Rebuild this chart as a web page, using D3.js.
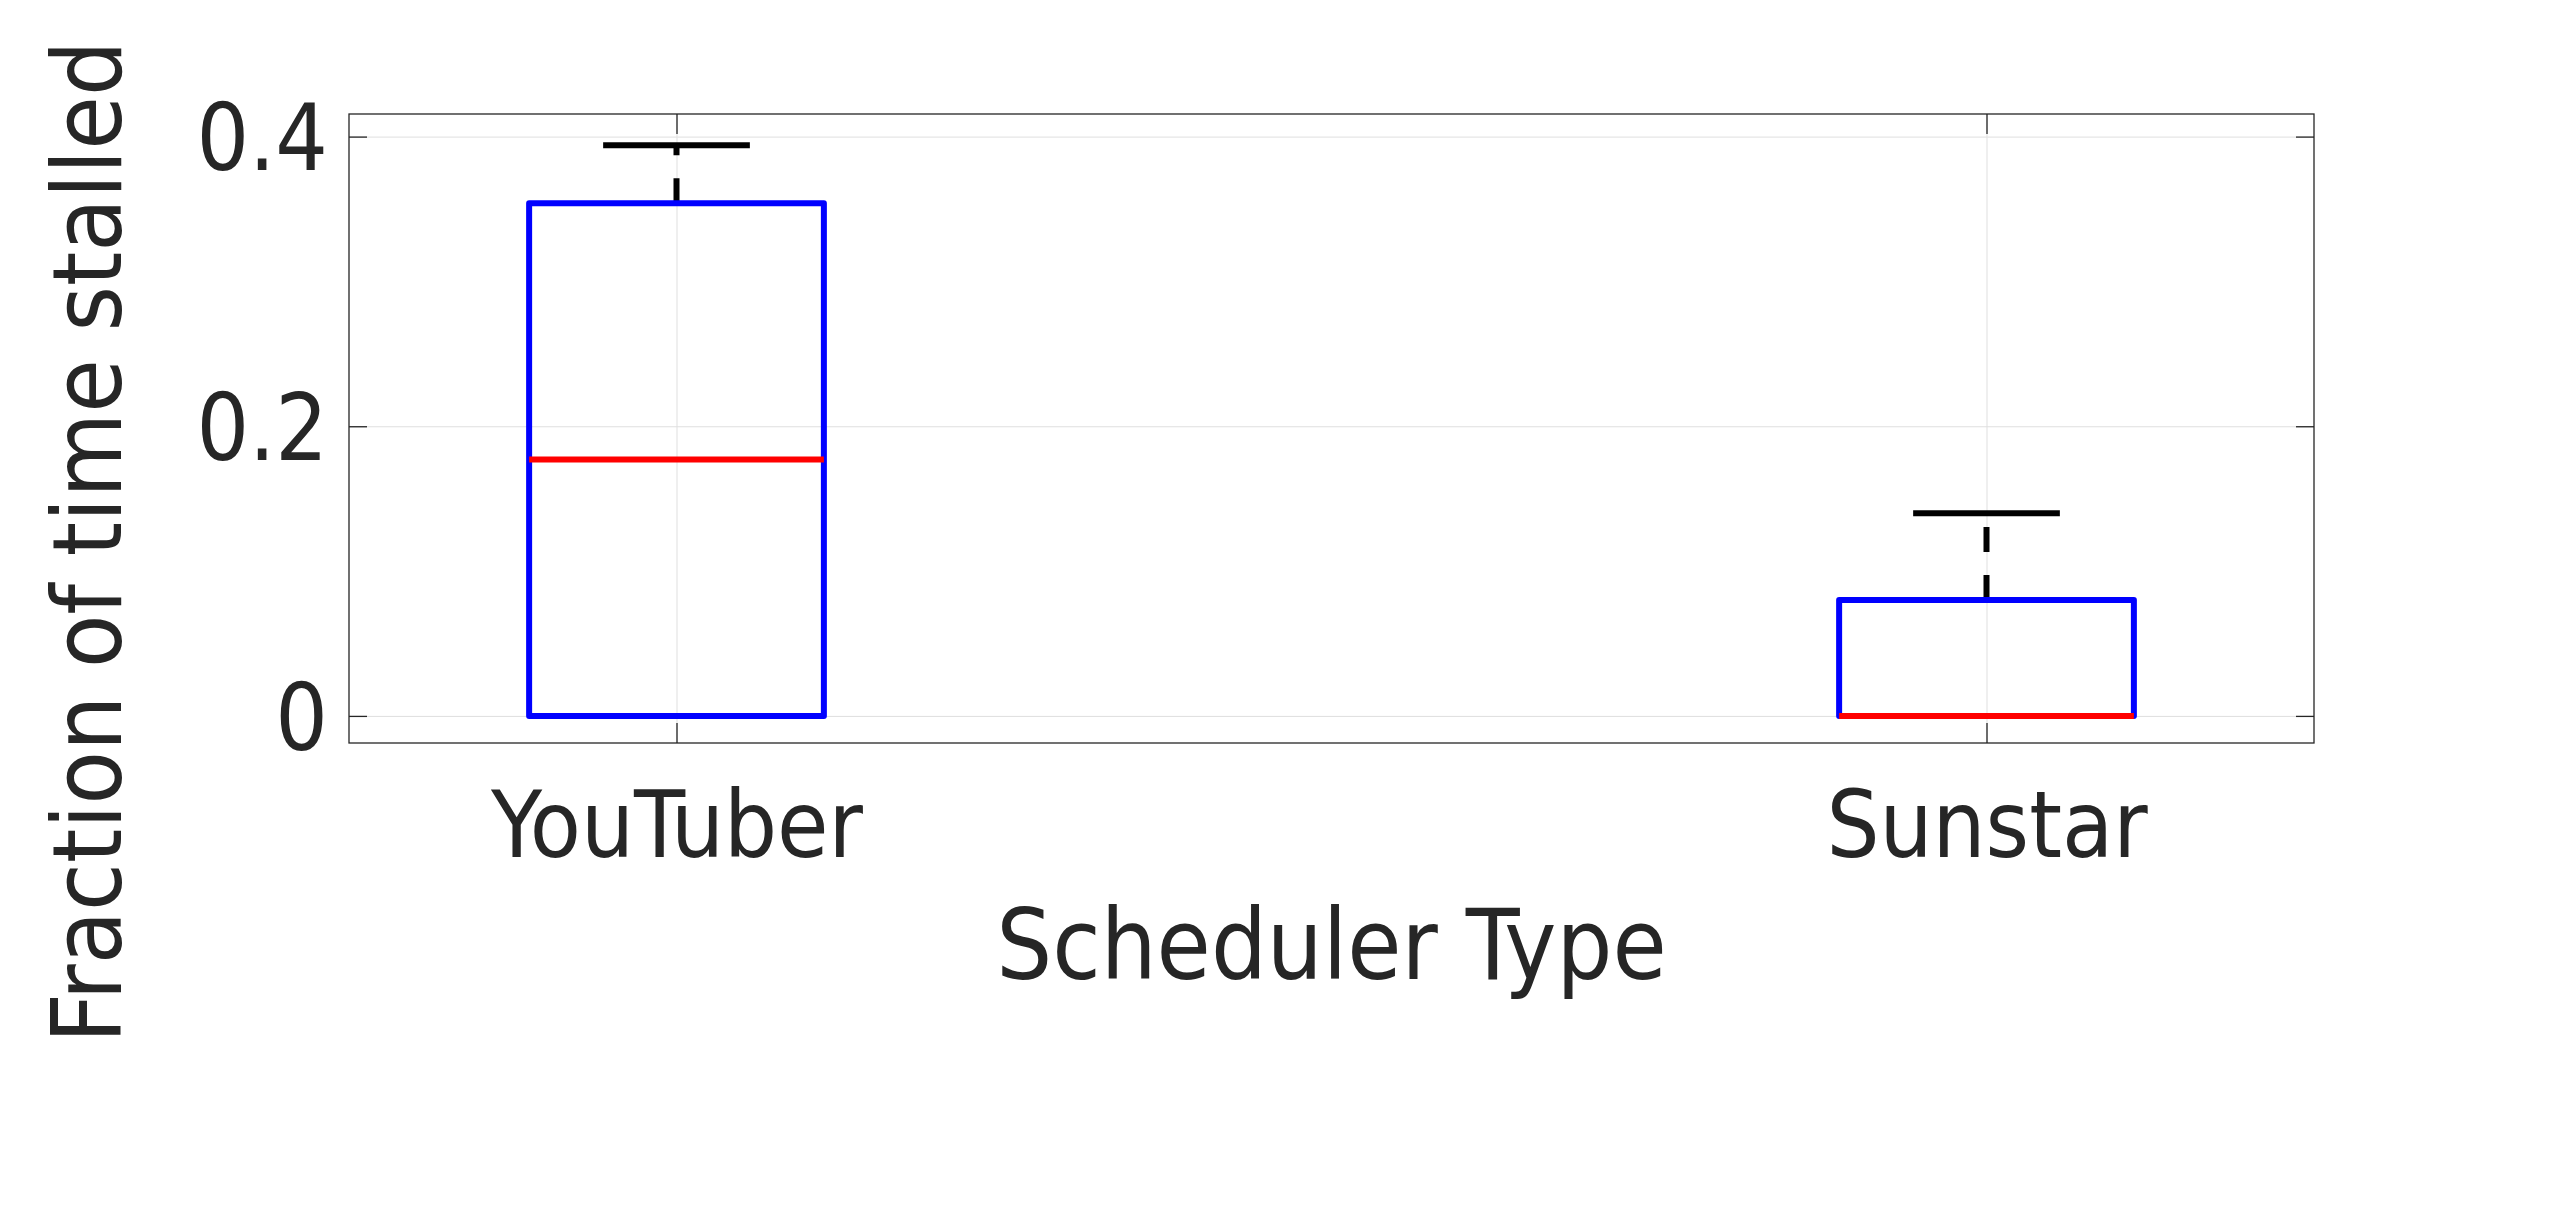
<!DOCTYPE html>
<head>
  <meta charset="utf-8">
  <title>Fraction of time stalled</title>
  <script src="https://d3js.org/d3.v7.min.js"></script>
  <style>
    body { margin: 0; background: #fff; }
    text {
      font-family: "DejaVu Sans Condensed", "DejaVu Sans", sans-serif;
      font-stretch: condensed;
      fill: #262626;
    }
    .grid line { stroke: #dfdfdf; stroke-width: 1px; }
    .grid path { display: none; }
    .ax path, .ax line { stroke: #262626; stroke-width: 1.3px; }
  </style>
</head>

<body>
    <svg id="chart" width="2560" height="1222"></svg>
    <script>
      // values
      var categories = ["YouTuber", "Sunstar"];
      var lowerWhisker = [0, 0];
      var q1 = [0, 0];
      var medians = [0.177, 0];
      var q3 = [0.354, 0.080];
      var upperWhisker = [0.394, 0.140];
      var yTicks = [0, 0.2, 0.4];

      var plotLeft = 349, plotRight = 2314, plotTop = 114, plotBottom = 743;
      var plotW = plotRight - plotLeft, plotH = plotBottom - plotTop;

      var svg = d3.select("#chart");

      var x = d3.scaleLinear().domain([0.75, 2.25]).range([plotLeft, plotRight]);
      var y = d3.scaleLinear().domain([-0.0187, 0.4156]).range([plotBottom, plotTop]);
      var pos = categories.map(function(d, i) { return i + 1; });

      // grid lines
      svg.append("g").attr("class", "grid")
        .attr("transform", "translate(" + plotLeft + ",0)")
        .call(d3.axisLeft(y).tickValues(yTicks).tickSize(-plotW).tickFormat(""));
      svg.append("g").attr("class", "grid")
        .attr("transform", "translate(0," + plotBottom + ")")
        .call(d3.axisBottom(x).tickValues(pos).tickSize(-plotH).tickFormat(""));

      // box frame
      svg.append("rect")
        .attr("x", plotLeft).attr("y", plotTop)
        .attr("width", plotW).attr("height", plotH)
        .attr("fill", "none").attr("stroke", "#262626").attr("stroke-width", 1.3);

      // axes with inward ticks
      var yAx = svg.append("g").attr("class", "ax")
        .attr("transform", "translate(" + plotLeft + ",0)")
        .call(d3.axisLeft(y).tickValues(yTicks).tickSize(-18).tickPadding(21)
          .tickFormat(function(d) { return d === 0 ? "0" : d3.format(".1f")(d); }));
      yAx.selectAll("text").attr("font-size", 92).attr("dy", "0.36em");

      svg.append("g").attr("class", "ax")
        .attr("transform", "translate(" + plotRight + ",0)")
        .call(d3.axisRight(y).tickValues(yTicks).tickSize(-18).tickFormat(""));

      var xAx = svg.append("g").attr("class", "ax")
        .attr("transform", "translate(0," + plotBottom + ")")
        .call(d3.axisBottom(x).tickValues(pos).tickSize(-20).tickPadding(48)
          .tickFormat(function(d) { return categories[d - 1]; }));
      xAx.selectAll("text").attr("font-size", 93);

      svg.append("g").attr("class", "ax")
        .attr("transform", "translate(0," + plotTop + ")")
        .call(d3.axisTop(x).tickValues(pos).tickSize(-20).tickFormat(""));

      svg.selectAll(".ax path").remove();

      // boxplot marks
      var halfBox = 0.1125, halfCap = 0.056, lw = 6;
      var g = svg.append("g");
      var idx = d3.range(categories.length);

      // whiskers (dashed), from box edge outward
      g.selectAll(".whisk-up").data(idx).enter().append("line")
        .attr("x1", function(i) { return x(pos[i]); })
        .attr("x2", function(i) { return x(pos[i]); })
        .attr("y1", function(i) { return y(q3[i]); })
        .attr("y2", function(i) { return y(upperWhisker[i]); })
        .attr("stroke", "#000").attr("stroke-width", lw)
        .attr("stroke-dasharray", "25,23");
      g.selectAll(".whisk-lo").data(idx).enter().append("line")
        .attr("x1", function(i) { return x(pos[i]); })
        .attr("x2", function(i) { return x(pos[i]); })
        .attr("y1", function(i) { return y(q1[i]); })
        .attr("y2", function(i) { return y(lowerWhisker[i]); })
        .attr("stroke", "#000").attr("stroke-width", lw)
        .attr("stroke-dasharray", "25,23");

      // caps
      [upperWhisker, lowerWhisker].forEach(function(arr) {
        g.selectAll(null).data(idx).enter().append("line")
          .attr("x1", function(i) { return x(pos[i] - halfCap); })
          .attr("x2", function(i) { return x(pos[i] + halfCap); })
          .attr("y1", function(i) { return y(arr[i]); })
          .attr("y2", function(i) { return y(arr[i]); })
          .attr("stroke", "#000").attr("stroke-width", lw);
      });

      // boxes
      g.selectAll(".box").data(idx).enter().append("rect")
        .attr("x", function(i) { return x(pos[i] - halfBox); })
        .attr("width", function(i) { return x(pos[i] + halfBox) - x(pos[i] - halfBox); })
        .attr("y", function(i) { return y(q3[i]); })
        .attr("height", function(i) { return y(q1[i]) - y(q3[i]); })
        .attr("fill", "none").attr("stroke", "#0000ff").attr("stroke-width", lw)
        .attr("stroke-linejoin", "round");

      // medians
      g.selectAll(".median").data(idx).enter().append("line")
        .attr("x1", function(i) { return x(pos[i] - halfBox); })
        .attr("x2", function(i) { return x(pos[i] + halfBox); })
        .attr("y1", function(i) { return y(medians[i]); })
        .attr("y2", function(i) { return y(medians[i]); })
        .attr("stroke", "#ff0000").attr("stroke-width", lw);

      // axis titles
      svg.append("text")
        .attr("x", (plotLeft + plotRight) / 2).attr("y", 979)
        .attr("text-anchor", "middle").attr("font-size", 98)
        .text("Scheduler Type");

      svg.append("text")
        .attr("transform", "translate(121,542) rotate(-90)")
        .attr("text-anchor", "middle").attr("font-size", 97)
        .text("Fraction of time stalled");
    </script>
</body>
</html>
